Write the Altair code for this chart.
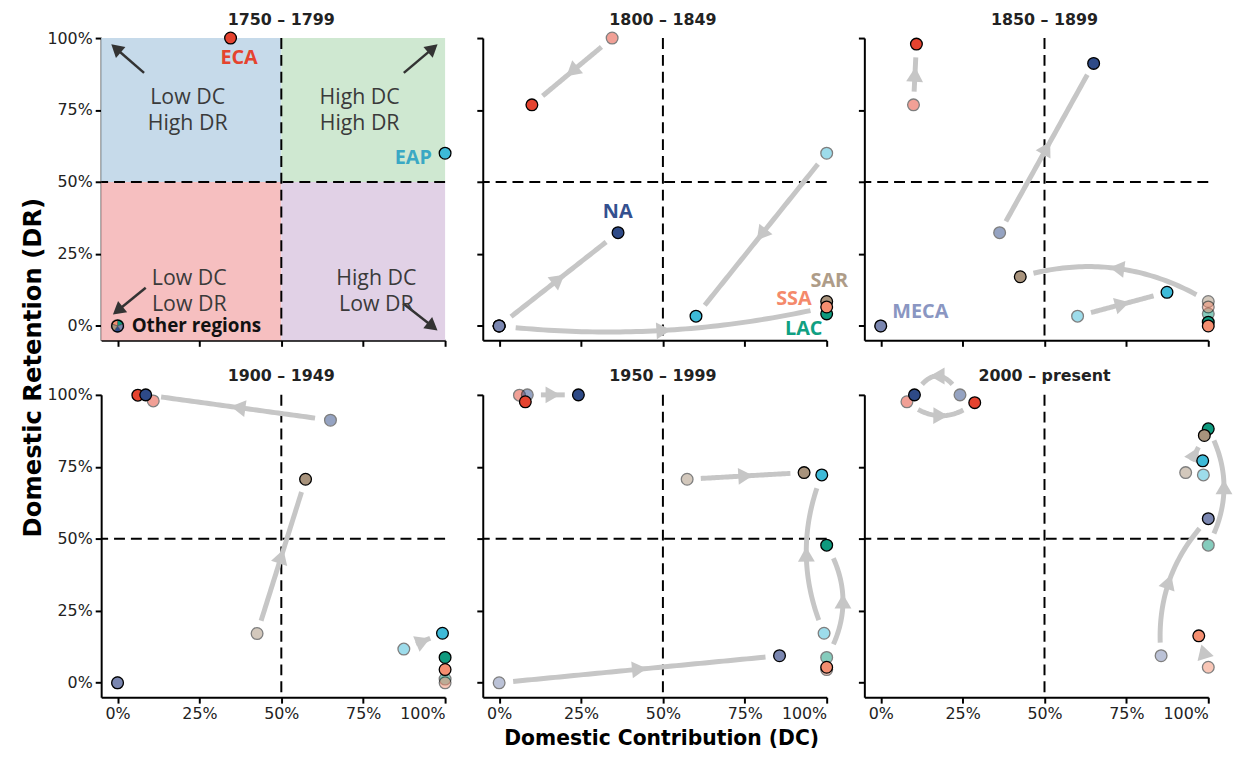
import math
import altair as alt
import pandas as pd

# ---------------- data ----------------
PERIODS = ["1750 – 1799", "1800 – 1849", "1850 – 1899",
           "1900 – 1949", "1950 – 1999", "2000 – present"]
REGIONS = ["ECA", "NA", "MECA", "EAP", "LAC", "SAR", "SSA"]          # drawing order
REGION_COLORS = ["#E5432F", "#2E4A87", "#7A86B0", "#3DBAD8", "#0E9A7E", "#A8937C", "#F48E70"]

# Domestic Contribution (x) per region, one value per period
DC = {
    "ECA":  [0.345, 0.100, 0.109, 0.062, 0.080, 0.287],
    "NA":   [0.000, 0.363, 0.650, 0.086, 0.242, 0.103],
    "MECA": [0.000, 0.000, 0.000, 0.000, 0.856, 1.000],
    "EAP":  [1.000, 0.601, 0.874, 0.992, 0.985, 0.983],
    "LAC":  [0.000, 1.000, 1.000, 1.000, 1.000, 1.000],
    "SAR":  [0.000, 1.000, 0.426, 0.574, 0.931, 0.988],
    "SSA":  [0.000, 1.000, 1.000, 1.000, 1.000, 0.971],
}
# Domestic Retention (y) per region, one value per period
DR = {
    "ECA":  [1.000, 0.768, 0.979, 0.999, 0.976, 0.973],
    "NA":   [0.000, 0.324, 0.912, 1.000, 1.000, 1.000],
    "MECA": [0.000, 0.000, 0.000, 0.000, 0.094, 0.570],
    "EAP":  [0.600, 0.034, 0.117, 0.172, 0.722, 0.771],
    "LAC":  [0.000, 0.042, 0.013, 0.088, 0.478, 0.882],
    "SAR":  [0.000, 0.085, 0.171, 0.707, 0.730, 0.859],
    "SSA":  [0.000, 0.066, 0.000, 0.046, 0.054, 0.163],
}
FIRST_PERIOD_SHOWN = ["ECA", "EAP"]
OTHER_REGIONS = ["LAC", "NA", "SSA", "SAR", "MECA"]
OTHER_SHARE = [1, 1, 1, 1, 1]

# movement arrows: (period index, region, curvature)
ARROW_PERIOD = [1, 1, 1, 1, 2, 2, 2, 2, 3, 3, 3, 4, 4, 4, 4, 4, 5, 5, 5, 5, 5, 5]
ARROW_REGION = ["ECA", "NA", "EAP", "SSA", "ECA", "NA", "SAR", "EAP", "NA", "SAR", "EAP",
                "NA", "SAR", "MECA", "EAP", "LAC", "NA", "ECA", "SAR", "MECA", "LAC", "SSA"]
ARROW_CURV = [0, 0, 0, -0.085, 0, 0, -0.22, 0, 0, 0, 0,
              0, 0, 0, 0.21, -0.29, -0.83, -0.4, 0, 0.23, -0.27, 0]

# first panel annotations
QUAD_TEXT = ["Low DC\nHigh DR", "High DC\nHigh DR", "Low DC\nLow DR", "High DC\nLow DR"]
QUAD_TX = [0.214, 0.739, 0.219, 0.790]
QUAD_TY = [0.792, 0.792, 0.162, 0.162]
QUAD_X0 = [-0.05, 0.5, -0.05, 0.5]
QUAD_X1 = [0.5, 1.0, 0.5, 1.0]
QUAD_Y0 = [0.5, 0.5, -0.05, -0.05]
QUAD_Y1 = [1.0, 1.0, 0.5, 0.5]
QUAD_FILL = ["#C6DAEA", "#CFE8D1", "#F6BFC0", "#E1D1E6"]
POINTER_X0 = [0.081, 0.874, 0.086, 0.872]
POINTER_Y0 = [0.879, 0.879, 0.133, 0.078]
POINTER_X1 = [-0.023, 0.981, -0.018, 0.981]
POINTER_Y1 = [0.982, 0.982, 0.036, -0.019]

LABEL_PERIOD = [0, 0, 0, 1, 1, 1, 1, 2]
LABEL_TEXT = ["ECA", "EAP", "Other regions", "NA", "SAR", "SSA", "LAC", "MECA"]
LABEL_X = [0.371, 0.903, 0.043, 0.362, 1.008, 0.900, 0.930, 0.121]
LABEL_Y = [0.931, 0.583, 0.000, 0.397, 0.156, 0.093, -0.010, 0.050]
LABEL_COLOR = ["#E5432F", "#3AA8C4", "#111111", "#34508F", "#AE9C88", "#F4896B", "#10A082", "#8A96C2"]

TICKS = [0, 0.25, 0.5, 0.75, 1.0]

# ---------------- layout ----------------
W, H = 347, 305
LO, HI = -0.05, 1.0
SX = W / (HI - LO)
SY = H / (HI - LO)
XS = alt.Scale(domain=[LO, HI], nice=False, zero=False)
YS = alt.Scale(domain=[LO, HI], nice=False, zero=False)
FILL = alt.Fill("region:N", scale=alt.Scale(domain=REGIONS, range=REGION_COLORS), legend=None)
ARROW_GREY = "#C6C6C6"
GAP = 13
BOLD = "DejaVu Sans"


def arrow_geometry(x0, y0, x1, y1, curv):
    p0 = (x0 * SX, y0 * SY)
    p1 = (x1 * SX, y1 * SY)
    dx, dy = p1[0] - p0[0], p1[1] - p0[1]
    L = math.hypot(dx, dy)
    nx, ny = -dy / L, dx / L
    mx, my = (p0[0] + p1[0]) / 2, (p0[1] + p1[1]) / 2
    cx, cy = mx + curv * L * nx, my + curv * L * ny
    pts = []
    for k in range(61):
        t = k / 60
        bx = (1 - t) ** 2 * p0[0] + 2 * (1 - t) * t * cx + t * t * p1[0]
        by = (1 - t) ** 2 * p0[1] + 2 * (1 - t) * t * cy + t * t * p1[1]
        if math.hypot(bx - p0[0], by - p0[1]) >= GAP and math.hypot(bx - p1[0], by - p1[1]) >= GAP:
            pts.append((bx / SX, by / SY))
    hx = 0.25 * p0[0] + 0.5 * cx + 0.25 * p1[0]
    hy = 0.25 * p0[1] + 0.5 * cy + 0.25 * p1[1]
    ang = math.degrees(math.atan2(dx, dy)) % 360
    return pts, (hx / SX, hy / SY, ang)


def axes(i):
    row, col = divmod(i, 3)
    xa = dict(values=TICKS, format=".0%", labels=row == 1, title="")
    ya = dict(values=TICKS, format=".0%", labels=col == 0, title="")
    if i == 4:
        xa.update(title="Domestic Contribution (DC)", titleX=180, titleY=42,
                  titleBaseline="middle", titleAlign="center", titleFontSize=20.5)
    if i == 0:
        ya.update(title="Domestic Retention (DR)", titleAngle=270, titleX=-68, titleY=332,
                  titleBaseline="middle", titleAlign="center", titleFontSize=24.5)
    return alt.Axis(**xa), alt.Axis(**ya)


def panel(i):
    xa, ya = axes(i)

    def X(f):
        return alt.X(f, type="quantitative", scale=XS, axis=xa)

    def Y(f):
        return alt.Y(f, type="quantitative", scale=YS, axis=ya)

    layers = []
    if i == 0:
        qdf = pd.DataFrame({"x0": QUAD_X0, "x1": QUAD_X1, "y0": QUAD_Y0, "y1": QUAD_Y1, "c": QUAD_FILL})
        layers.append(alt.Chart(qdf).mark_rect().encode(
            x=X("x0"), x2="x1", y=Y("y0"), y2="y1", color=alt.Color("c:N", scale=None)))

    ref = pd.DataFrame({"v": [0.5]})
    layers.append(alt.Chart(ref).mark_rule(color="black", strokeWidth=2, strokeDash=[11, 6]).encode(x=X("v")))
    layers.append(alt.Chart(ref).mark_rule(color="black", strokeWidth=2, strokeDash=[11, 6]).encode(y=Y("v")))

    # panel title as text
    tt = pd.DataFrame({"t": [PERIODS[i]], "x": [0.5], "y": [HI + 18.5 / SY]})
    layers.append(alt.Chart(tt).mark_text(
        font=BOLD, fontWeight="bold", fontSize=16, color="#222222",
        align="center", baseline="middle").encode(x=X("x"), y=Y("y"), text="t:N"))

    if i == 0:
        rows, heads = [], []
        for a, b, c, d in zip(POINTER_X0, POINTER_Y0, POINTER_X1, POINTER_Y1):
            dx, dy = (c - a) * SX, (d - b) * SY
            L = math.hypot(dx, dy)
            back = 8.0
            hx, hy = c - dx / L * back / SX, d - dy / L * back / SY
            rows.append({"x": a, "y": b, "x2": hx, "y2": hy})
            heads.append({"x": hx, "y": hy, "a": math.degrees(math.atan2(dx, dy)) % 360})
        layers.append(alt.Chart(pd.DataFrame(rows)).mark_rule(color="#333333", strokeWidth=2.5).encode(
            x=X("x"), y=Y("y"), x2="x2", y2="y2"))
        layers.append(alt.Chart(pd.DataFrame(heads)).mark_point(
            shape="triangle-up", filled=True, size=210, color="#333333", opacity=1).encode(
            x=X("x"), y=Y("y"), angle=alt.Angle("a:Q", scale=None)))
        tdf = pd.DataFrame({"t": QUAD_TEXT, "x": QUAD_TX, "y": QUAD_TY})
        layers.append(alt.Chart(tdf).mark_text(
            font="Open Sans", fontSize=21.5, color="#3A3A3A", lineBreak="\n", lineHeight=26,
            align="center", baseline="middle").encode(x=X("x"), y=Y("y"), text="t:N"))

    line_rows, head_rows = [], []
    for k, (p, r, cv) in enumerate(zip(ARROW_PERIOD, ARROW_REGION, ARROW_CURV)):
        if p != i:
            continue
        pts, head = arrow_geometry(DC[r][p - 1], DR[r][p - 1], DC[r][p], DR[r][p], cv)
        for j, (px, py) in enumerate(pts):
            line_rows.append({"id": k, "o": j, "x": px, "y": py})
        head_rows.append({"x": head[0], "y": head[1], "a": head[2]})
    if line_rows:
        layers.append(alt.Chart(pd.DataFrame(line_rows)).mark_line(
            color=ARROW_GREY, strokeWidth=5, strokeCap="butt").encode(
            x=X("x"), y=Y("y"), detail="id:N", order="o:Q"))
    if head_rows:
        layers.append(alt.Chart(pd.DataFrame(head_rows)).mark_point(
            shape="triangle-up", filled=True, size=290, color=ARROW_GREY, opacity=1).encode(
            x=X("x"), y=Y("y"), angle=alt.Angle("a:Q", scale=None)))

    if i > 0:
        prev = pd.DataFrame({"region": REGIONS,
                             "x": [DC[r][i - 1] for r in REGIONS],
                             "y": [DR[r][i - 1] for r in REGIONS]})
        layers.append(alt.Chart(prev).mark_circle(
            size=140, stroke="black", strokeWidth=1.3, opacity=0.5).encode(
            x=X("x"), y=Y("y"), fill=FILL))

    shown = REGIONS if i > 0 else [r for r in REGIONS if r in FIRST_PERIOD_SHOWN]
    cur = pd.DataFrame({"region": shown,
                        "x": [DC[r][i] for r in shown],
                        "y": [DR[r][i] for r in shown]})
    layers.append(alt.Chart(cur).mark_circle(
        size=140, stroke="black", strokeWidth=1.3, opacity=1).encode(
        x=X("x"), y=Y("y"), fill=FILL))

    if i == 0:
        pie = pd.DataFrame({"region": OTHER_REGIONS, "share": OTHER_SHARE,
                            "x": [DC[r][0] for r in OTHER_REGIONS],
                            "y": [DR[r][0] for r in OTHER_REGIONS]})
        layers.append(alt.Chart(pie).mark_arc(outerRadius=6.5, stroke="#444444", strokeWidth=0.5).encode(
            x=X("x"), y=Y("y"), theta=alt.Theta("share:Q", stack=True), fill=FILL))
        layers.append(alt.Chart(pie.head(1)).mark_point(
            shape="circle", size=140, filled=False, color="black", strokeWidth=1.3, opacity=1).encode(
            x=X("x"), y=Y("y")))

    lab = [(t, x, y, c) for p, t, x, y, c in zip(LABEL_PERIOD, LABEL_TEXT, LABEL_X, LABEL_Y, LABEL_COLOR) if p == i]
    for t, x, y, c in lab:
        other = t == "Other regions"
        layers.append(alt.Chart(pd.DataFrame({"t": [t], "x": [x], "y": [y]})).mark_text(
            font="Open Sans", fontWeight="bold", fontSize=19 if other else 20, color=c,
            align="left" if other else "center", baseline="middle").encode(
            x=X("x"), y=Y("y"), text="t:N"))

    return alt.layer(*layers).properties(width=W, height=H)


panels = [panel(i) for i in range(6)]
chart = alt.concat(*panels, columns=3, spacing=alt.RowColnumber(row=55, column=38), bounds="flush").properties(
    padding={"left": 13, "top": 0, "right": 5, "bottom": 0}
).configure_view(stroke=None).configure_axis(
    domainColor="black", domainWidth=2, tickColor="black", tickWidth=2, tickSize=6,
    labelFont="DejaVu Sans", labelFontSize=16, labelColor="#222222", labelPadding=3,
    grid=False, titleFont=BOLD, titleFontWeight="bold", titleColor="black"
)

chart.save("out.html", embed_options={"renderer": "svg", "actions": False})
